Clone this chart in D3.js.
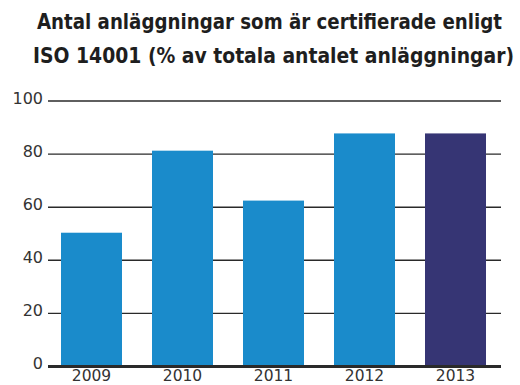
<!DOCTYPE html>
<html>
<head>
<meta charset="utf-8">
<script src="https://cdn.jsdelivr.net/npm/d3@7"></script>
<style>
  html, body { margin: 0; padding: 0; background: #fff; }
  svg { display: block; }
</style>
</head>
<body>
<div id="chart"></div>
<script>
// Share of facilities certified according to ISO 14001, per year
const years = ["2009", "2010", "2011", "2012", "2013"];
const shares = [50.2, 81.1, 62.3, 87.6, 87.6];
const yTicks = [0, 20, 40, 60, 80, 100];
const titleLines = [
  "Antal anläggningar som är certifierade enligt",
  "ISO 14001 (% av totala antalet anläggningar)"
];

const W = 520, H = 385;
const plotLeft = 48, plotRight = 501, plotTop = 100.5, plotBottom = 366;
const font = "'DejaVu Sans', sans-serif";
const titleFont = "'DejaVu Sans Condensed', 'DejaVu Sans', sans-serif";

const svg = d3.select("#chart").append("svg")
  .attr("width", W).attr("height", H);

// Two-line title
const titleLayout = [
  { cx: 269.5, base: 29, len: 465 },
  { cx: 273.5, base: 63, len: 481 }
];
svg.append("g").selectAll("text")
  .data(titleLines)
  .join("text")
  .attr("x", (d, i) => titleLayout[i].cx)
  .attr("y", (d, i) => titleLayout[i].base)
  .attr("text-anchor", "middle")
  .attr("font-family", titleFont)
  .attr("font-weight", "bold")
  .attr("font-size", 21)
  .attr("fill", "#1e1e1e")
  .attr("textLength", (d, i) => titleLayout[i].len)
  .attr("lengthAdjust", "spacingAndGlyphs")
  .text(d => d);

const x = d3.scaleBand()
  .domain(years)
  .range([61, 486])
  .paddingInner(30 / 91)
  .paddingOuter(0);

const y = d3.scaleLinear().domain([0, 100]).range([plotBottom, plotTop]);

// Gridlines and y labels
const yAxis = d3.axisLeft(y)
  .tickValues(yTicks)
  .tickSize(-(plotRight - plotLeft))
  .tickFormat(d3.format("d"));

const gy = svg.append("g")
  .attr("transform", `translate(${plotLeft},0)`)
  .call(yAxis);
gy.select(".domain").remove();
gy.selectAll(".tick line")
  .attr("stroke", "#2a2a2a")
  .attr("stroke-width", d => d === 0 ? 3 : 1.4);
gy.selectAll(".tick text")
  .attr("font-family", font)
  .attr("font-size", 16)
  .attr("fill", "#333")
  .attr("x", -5)
  .attr("dy", "0.18em");

// Bars
svg.append("g").selectAll("rect")
  .data(years.map((yr, i) => ({ yr, v: shares[i] })))
  .join("rect")
  .attr("x", d => x(d.yr))
  .attr("y", d => y(d.v))
  .attr("width", x.bandwidth())
  .attr("height", d => y(0) - y(d.v) - 1)
  .attr("fill", d => d.yr === "2013" ? "#363574" : "#1a8bcb");

// Category labels
const xAxis = d3.axisBottom(x).tickSize(0);
const gx = svg.append("g")
  .attr("transform", `translate(0,${plotBottom})`)
  .call(xAxis);
gx.select(".domain").remove();
gx.selectAll(".tick text")
  .attr("font-family", font)
  .attr("font-size", 15.5)
  .attr("fill", "#333")
  .attr("y", 15)
  .attr("dy", 0);
</script>
</body>
</html>
